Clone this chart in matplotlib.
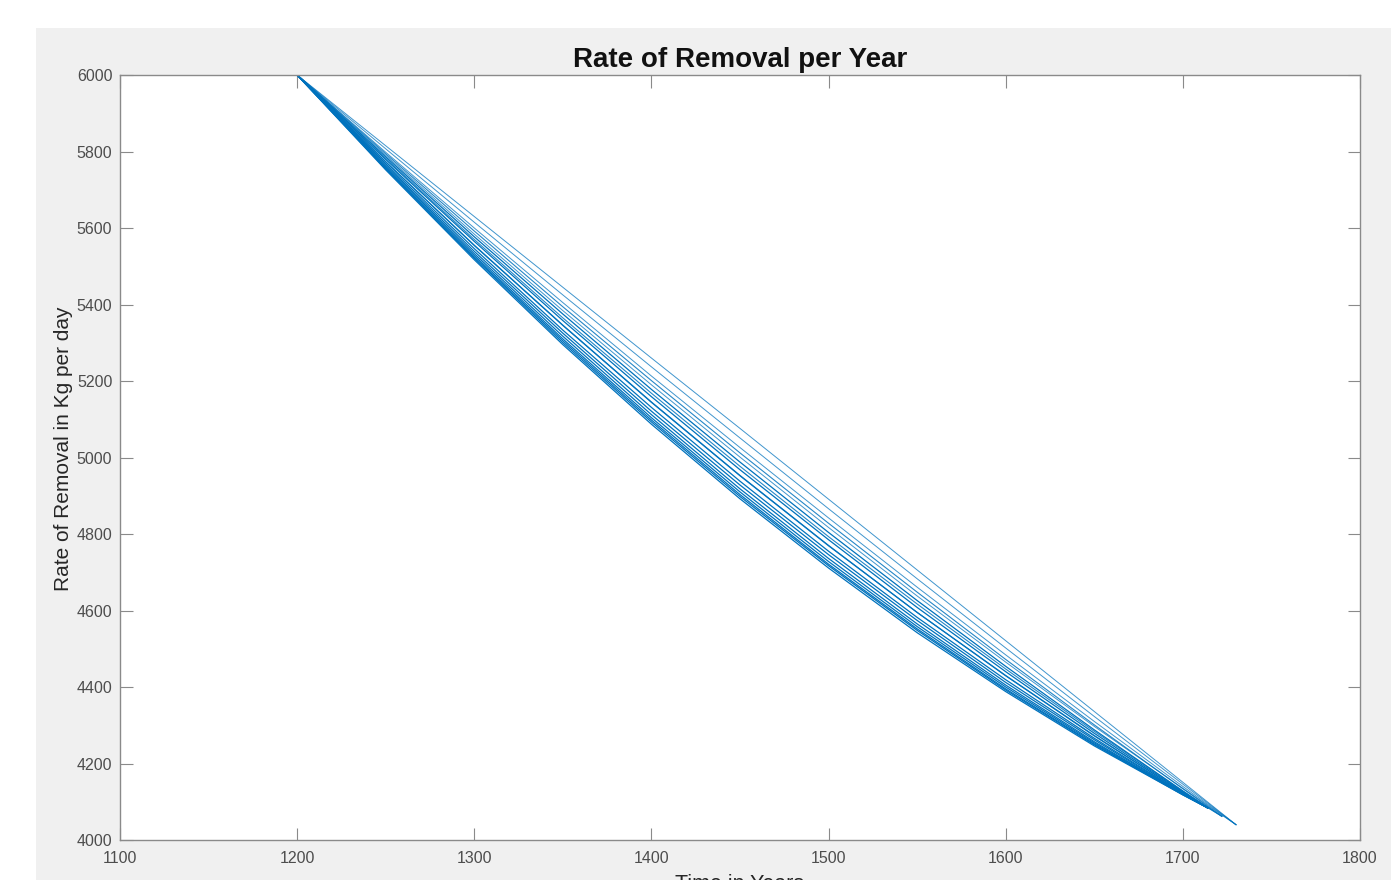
import numpy as np
import matplotlib.pyplot as plt
from matplotlib.patches import Rectangle

plt.rcParams['font.family'] = ['Liberation Sans', 'DejaVu Sans']

# sample years and removal rates (kg/day), one list per run
years_a = [1200, 1250, 1300, 1350, 1400, 1450, 1500, 1550, 1600, 1650, 1700, 1730]
runs_a = [
    [6000, 5815, 5630, 5445, 5260, 5076, 4891, 4706, 4521, 4336, 4151, 4040],
    [6000, 5807, 5615, 5425, 5237, 5051, 4866, 4683, 4502, 4323, 4146, 4040],
    [6000, 5798, 5600, 5405, 5213, 5026, 4842, 4661, 4484, 4310, 4140, 4040],
    [6000, 5790, 5584, 5384, 5190, 5001, 4817, 4638, 4465, 4297, 4135, 4040],
]

years_c = [1200, 1250, 1300, 1350, 1400, 1450, 1500, 1550, 1600, 1650, 1700, 1722]
runs_c = [
    [6000, 5794, 5592, 5394, 5201, 5012, 4828, 4648, 4472, 4301, 4134, 4062],
    [6000, 5782, 5570, 5365, 5168, 4977, 4793, 4617, 4447, 4284, 4128, 4062],
    [6000, 5773, 5554, 5345, 5144, 4952, 4769, 4595, 4429, 4272, 4124, 4062],
]

years_b = [1200, 1250, 1300, 1350, 1400, 1450, 1500, 1550, 1600, 1650, 1700, 1714]
runs_b = [
    [6000, 5786, 5577, 5375, 5178, 4988, 4804, 4626, 4454, 4288, 4128, 4084],
    [6000, 5779, 5565, 5358, 5159, 4968, 4785, 4608, 4440, 4279, 4126, 4084],
    [6000, 5773, 5555, 5346, 5145, 4953, 4770, 4595, 4430, 4273, 4124, 4084],
    [6000, 5768, 5546, 5333, 5131, 4938, 4755, 4582, 4419, 4266, 4122, 4084],
    [6000, 5764, 5539, 5325, 5121, 4928, 4746, 4574, 4412, 4262, 4121, 4084],
    [6000, 5761, 5533, 5317, 5112, 4918, 4736, 4565, 4405, 4257, 4120, 4084],
    [6000, 5758, 5528, 5310, 5104, 4910, 4728, 4558, 4400, 4254, 4120, 4084],
    [6000, 5756, 5524, 5305, 5098, 4903, 4721, 4552, 4395, 4251, 4119, 4084],
    [6000, 5754, 5521, 5300, 5093, 4898, 4717, 4548, 4392, 4249, 4118, 4084],
    [6000, 5752, 5517, 5295, 5087, 4892, 4711, 4542, 4388, 4246, 4118, 4084],
]

fig = plt.figure(figsize=(13.91, 8.80), dpi=100, facecolor='white')
# matlab figure window background
fig.patches.append(Rectangle((36 / 1391, 0), 1, 1 - 28 / 880, transform=fig.transFigure,
                             facecolor='#f0f0f0', edgecolor='none', zorder=-1))

ax = fig.add_axes([120 / 1391, 1 - 840 / 880, 1240 / 1391, 765 / 880])
ax.set_facecolor('white')

for r in runs_a:
    ax.plot(years_a, r, color='#0072bd', lw=0.7, alpha=0.75)
for r in runs_c:
    ax.plot(years_c, r, color='#0072bd', lw=0.8, alpha=0.85)
for r in runs_b:
    ax.plot(years_b, r, color='#0072bd', lw=0.9)

ax.set_xlim(1100, 1800)
ax.set_ylim(4000, 6000)
ax.set_xticks(np.arange(1100, 1801, 100))
ax.set_yticks(np.arange(4000, 6001, 200))
ax.tick_params(direction='in', length=9, width=0.8, colors='#8a8a8a', labelcolor='#4d4d4d',
               labelsize=11.5, top=True, right=True)
ax.tick_params(axis='x', pad=8)
ax.tick_params(axis='y', pad=5.5)
for s in ax.spines.values():
    s.set_color('#8a8a8a')
    s.set_linewidth(1.0)

ax.set_title('Rate of Removal per Year', fontsize=20, fontweight='bold', color='#111111', pad=6)
ax.set_ylabel('Rate of Removal in Kg per day', fontsize=15, color='#262626')
ax.yaxis.set_label_coords(-0.038, 0.511)
ax.set_xlabel('Time in Years', fontsize=15.5, color='#262626', labelpad=6)

plt.savefig('out.png', dpi=100, facecolor='white')
